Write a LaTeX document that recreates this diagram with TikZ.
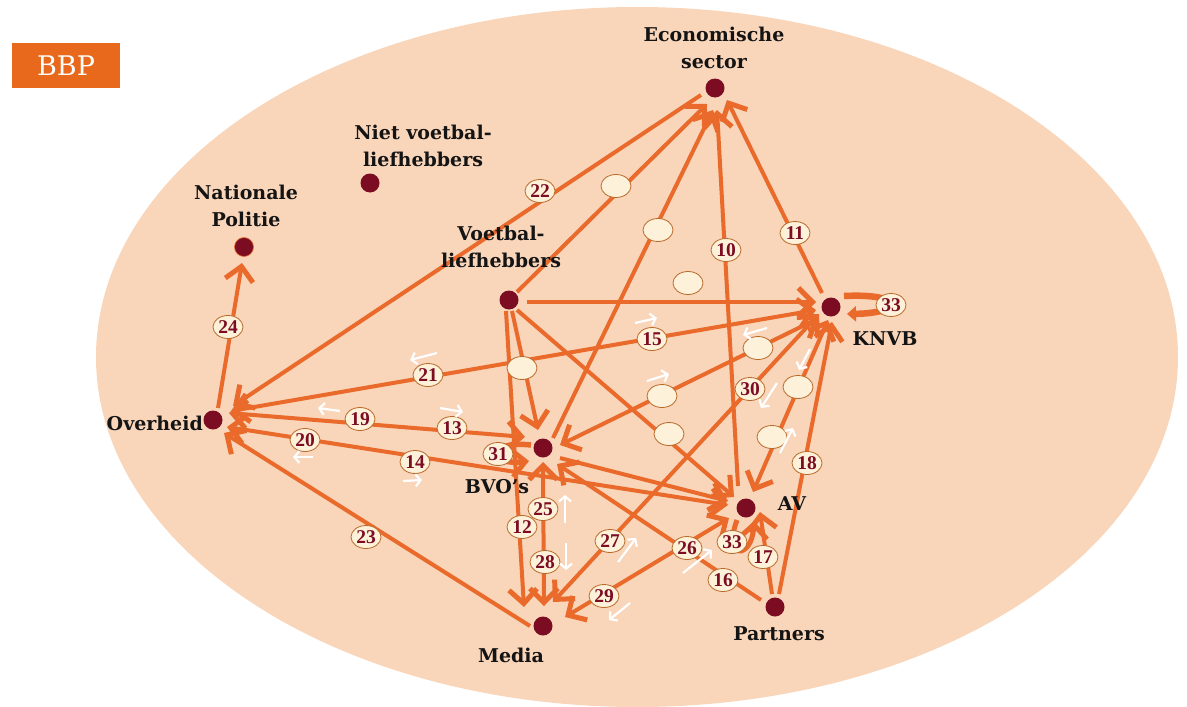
\documentclass[tikz,border=0pt]{standalone}
\usepackage{fontspec}
\setmainfont{DejaVu Serif}
\newfontfamily\numfont{Liberation Serif}
\usetikzlibrary{arrows.meta,shapes.geometric}
\definecolor{bg}{HTML}{F9D5BA}
\definecolor{lc}{HTML}{E96A2B}
\definecolor{dotc}{HTML}{7C0C22}
\definecolor{labc}{HTML}{FDF1DA}
\definecolor{labd}{HTML}{B86A2A}
\definecolor{bbpc}{HTML}{E8691B}
\begin{document}
\begin{tikzpicture}[x=1pt,y=-1pt,
  >={Straight Barb[length=14pt,width=28pt,line width=5pt]},
  dot/.style={circle,fill=dotc,minimum size=19pt,inner sep=0pt},
  txt/.style={font=\bfseries\fontsize{19}{27}\selectfont,text=black!92,inner sep=0pt,align=center},
  lab/.style={ellipse,fill=labc,draw=labd,line width=0.8pt,minimum width=30pt,minimum height=23pt,inner sep=0pt,
    font=\numfont\bfseries\fontsize{19.5}{19.5}\selectfont,text=dotc},
  ln/.style={draw=lc,line width=4pt},
  lp/.style={draw=lc,line width=6.5pt},
  wa/.style={draw=white,line width=2.2pt,-{Straight Barb[length=5pt,width=12pt,line width=2.2pt]}}
]
\useasboundingbox (0,0) rectangle (1187,707);
\begin{scope}
  \clip (0,0) rectangle (1187,707);
  \fill[bg] (637,357) ellipse [x radius=541, y radius=350];
\end{scope}
\node[fill=bbpc,minimum width=108pt,minimum height=45pt,inner sep=0pt,text=white,
  font=\fontsize{27}{27}\selectfont] (bbp) at (66,65.5) {BBP};

% actors
\node[dot] (econ) at (715,88) {};
\node[dot] (niet) at (370,183) {};
\node[dot,draw=lc,line width=0.6pt] (pol) at (244,247) {};
\node[dot] (vl) at (509,300) {};
\node[dot] (knvb) at (831,307) {};
\node[dot] (ov) at (213,420) {};
\node[dot] (bvo) at (543,448) {};
\node[dot] (av) at (746,508) {};
\node[dot] (part) at (775,607) {};
\node[dot] (media) at (543,626) {};

% relations
\draw[ln,->] ([shift={(8,-8)}]vl.center) -- ([shift={(-8,16)}]econ.center);
\draw[ln,->] ([shift={(10,-10)}]bvo.center) -- ([shift={(-2,22)}]econ.center);
\draw[ln,->] ([shift={(-8,-22)}]av.center) -- ([shift={(2,22)}]econ.center);
\draw[ln,->] ([shift={(-9,-14)}]knvb.center) -- ([shift={(12,12)}]econ.center);
\draw[ln,->] ([shift={(-14,7)}]econ.center) -- ([shift={(20,-14)}]ov.center);
\draw[ln,->] ([shift={(18,2)}]vl.center) -- ([shift={(-15,-5)}]knvb.center);
\draw[ln,->] ([shift={(3,11)}]vl.center) -- ([shift={(-5,-18)}]bvo.center);
\draw[ln,->] ([shift={(-3,11)}]vl.center) -- ([shift={(-19,-19)}]media.center);
\draw[ln,->] ([shift={(8,10)}]vl.center) -- ([shift={(-12,-11)}]av.center);
\draw[ln,<->] ([shift={(18,-9)}]ov.center) -- ([shift={(-15,3)}]knvb.center);
\draw[ln,<->] ([shift={(16,-7)}]ov.center) -- ([shift={(-18,-11)}]bvo.center);
\draw[ln,<->] ([shift={(14,7)}]ov.center) -- ([shift={(-18,-3)}]av.center);
\draw[ln,->] ([shift={(-13,0)}]media.center) -- ([shift={(11,13)}]ov.center);
\draw[ln,->] ([shift={(5,-12)}]ov.center) -- ([shift={(-2,16)}]pol.center);
\draw[ln,<->] ([shift={(-12,11)}]knvb.center) -- ([shift={(17,-3)}]bvo.center);
\draw[ln,<->] ([shift={(-3,13)}]knvb.center) -- ([shift={(7,-16)}]av.center);
\draw[ln,<->] ([shift={(-12,7)}]knvb.center) -- ([shift={(10,-24)}]media.center);
\draw[ln,<->] ([shift={(0,14)}]bvo.center) -- ([shift={(1,-20)}]media.center);
\draw[ln,<->] ([shift={(22,-9)}]media.center) -- ([shift={(-17,10)}]av.center);
\draw[ln,->] ([shift={(-14,-7)}]part.center) -- ([shift={(14,16)}]bvo.center);
\draw[ln,->] ([shift={(-3,-13)}]part.center) -- ([shift={(14,4)}]av.center);
\draw[ln,->] ([shift={(4,-13)}]part.center) -- ([shift={(1,15)}]knvb.center);
\draw[ln,->] ([shift={(17,10)}]bvo.center) -- ([shift={(-18,-7)}]av.center);

% self relations
\draw[lp,-{Triangle[length=9pt,width=15pt]}] ([shift={(13,-11)}]knvb.center) .. controls (905,293) and (905,313) .. ([shift={(16,7)}]knvb.center);
\draw[lp,line width=5pt,->] ([shift={(-9,12)}]av.center) .. controls (722,560) and (752,560) .. ([shift={(8,13)}]av.center);
\draw[lp,line width=5.5pt,->] ([shift={(-12,-3)}]bvo.center) .. controls (486,440) and (486,466) .. ([shift={(-14,13)}]bvo.center);

% labels
\node[lab] (l22) at (540,191) {22};
\node[lab] (l10) at (726,250) {10};
\node[lab] (l11) at (795,233) {11};
\node[lab] (l24) at (228,327) {24};
\node[lab] (l21) at (428,375) {21};
\node[lab] (l15) at (652,339) {15};
\node[lab] (l19) at (360,419) {19};
\node[lab] (l13) at (452,428) {13};
\node[lab] (l20) at (305,440) {20};
\node[lab] (l14) at (415,462) {14};
\node[lab] (l31) at (498,454) {31};
\node[lab] (l23) at (366,537) {23};
\node[lab] (l12) at (522,527) {12};
\node[lab] (l25) at (543,509) {25};
\node[lab] (l28) at (545,562) {28};
\node[lab] (l27) at (610,541) {27};
\node[lab] (l29) at (604,596) {29};
\node[lab] (l26) at (687,548) {26};
\node[lab] (l16) at (723,580) {16};
\node[lab] (l33a) at (732,542) {33};
\node[lab] (l17) at (763,557) {17};
\node[lab] (l18) at (807,463) {18};
\node[lab] (l30) at (750,389) {30};
\node[lab] (l33k) at (891,305) {33};
\node[lab] (e1) at (616,186) {};
\node[lab] (e2) at (658,230) {};
\node[lab] (e3) at (688,283) {};
\node[lab] (e4) at (522,368) {};
\node[lab] (e5) at (758,348) {};
\node[lab] (e6) at (662,396) {};
\node[lab] (e7) at (798,387) {};
\node[lab] (e8) at (772,437) {};
\node[lab] (e9) at (669,434) {};

% direction marks
\draw[wa] (437,353) -- (410,360);
\draw[wa] (340,411) -- (318,408);
\draw[wa] (440,408) -- (463,412);
\draw[wa] (313,457) -- (293,457);
\draw[wa] (403,481) -- (422,480);
\draw[wa] (635,323) -- (657,318);
\draw[wa] (767,328) -- (743,335);
\draw[wa] (647,381) -- (669,374);
\draw[wa] (810,349) -- (799,370);
\draw[wa] (777,383) -- (761,408);
\draw[wa] (780,453) -- (793,428);
\draw[wa] (565,523) -- (565,495);
\draw[wa] (566,543) -- (566,570);
\draw[wa] (618,562) -- (636,538);
\draw[wa] (630,603) -- (609,620);
\draw[wa] (683,573) -- (712,550);

% actor names
\node[txt,anchor=south] (teco) at (714,69) {Economische\\sector};
\node[txt,anchor=south] (tniet) at (423,167) {Niet voetbal-\\liefhebbers};
\node[txt,anchor=south] (tvl) at (501,268) {Voetbal-\\liefhebbers};
\node[txt,anchor=south] (tpol) at (246,227) {Nationale\\Politie};
\node[txt,anchor=base] (tknvb) at (885,345) {KNVB};
\node[txt,anchor=base east] (tov) at (203,430) {Overheid};
\node[txt,anchor=base] (tbvo) at (497,493) {BVO’s};
\node[txt,anchor=base] (tav) at (792,510) {AV};
\node[txt,anchor=base] (tpart) at (779,640) {Partners};
\node[txt,anchor=base] (tmedia) at (511,662) {Media};
\end{tikzpicture}
\end{document}
